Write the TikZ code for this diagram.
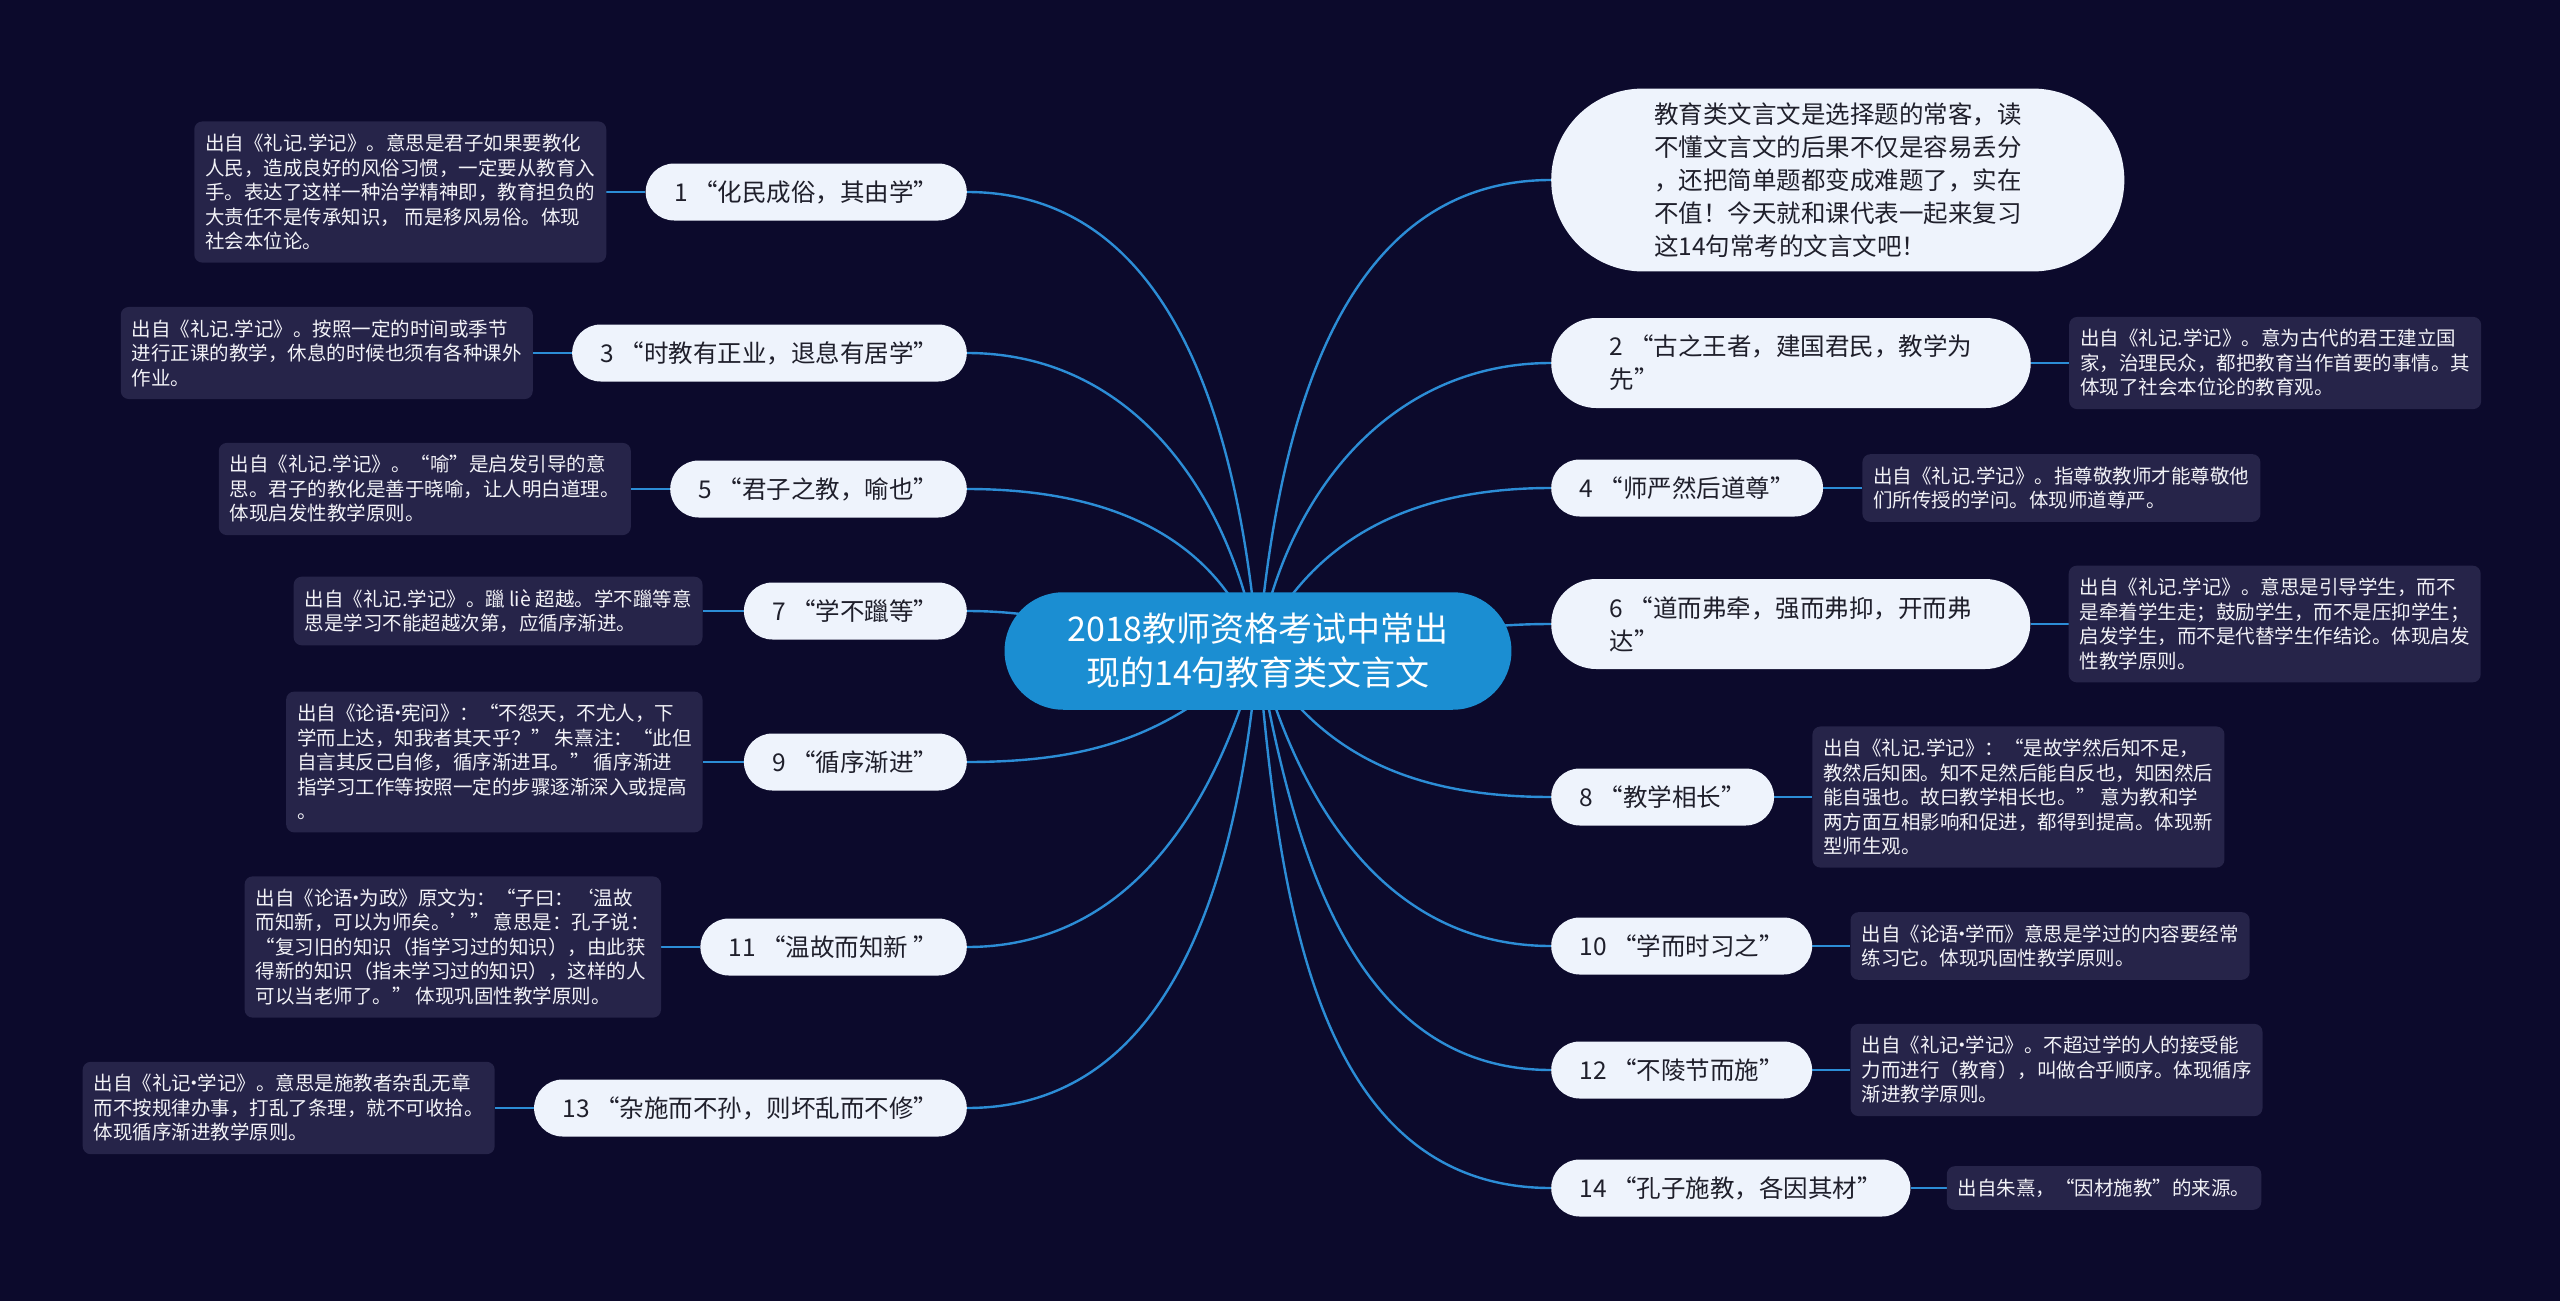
\documentclass[tikz,border=0pt]{standalone}
\usepackage{fontspec}
\usepackage{xcolor}
\usepackage{tikz}
\usetikzlibrary{shapes.misc}
\newfontfamily\cjk{Noto Sans CJK SC}
\definecolor{navy}{HTML}{0C0A2C}
\definecolor{hubblue}{HTML}{1B8ED2}
\definecolor{wireblue}{HTML}{2C8DD6}
\definecolor{topicfill}{HTML}{EEF3FC}
\definecolor{topictext}{HTML}{1F1F2B}
\definecolor{notefill}{HTML}{262449}
\definecolor{notetext}{HTML}{F2F2F7}
\newcommand{\mdot}{\kern-.33em·\kern-.33em}
\pgfdeclarelayer{back}
\pgfdeclarelayer{wires}
\pgfsetlayers{back,wires,main}

\begin{document}
\begin{tikzpicture}[x=1pt, y=-1pt,
    hub/.style={rounded rectangle, fill=hubblue, text=white, align=center,
      inner xsep=49pt, inner ysep=21pt, font=\cjk\fontsize{34pt}{44pt}\selectfont},
    topic/.style={rounded rectangle, fill=topicfill, text=topictext, align=left,
      inner xsep=26pt, inner ysep=12pt, minimum height=57pt,
      font=\cjk\fontsize{24.5pt}{33pt}\selectfont},
    twoline/.style={inner xsep=49pt, minimum height=90pt},
    note/.style={rectangle, rounded corners=8pt, fill=notefill, text=notetext,
      align=left, inner xsep=11pt, inner ysep=12.5pt,
      font=\cjk\fontsize{19.5pt}{24.5pt}\selectfont},
    wire/.style={draw=wireblue, line width=2.4pt}]

\useasboundingbox (0,0) rectangle (2560,1301);
\begin{pgfonlayer}{back}
  \fill[navy] (0,0) rectangle (2560,1301);
\end{pgfonlayer}

\node[hub] (c) at (1258,651) {2018教师资格考试中常出\\现的14句教育类文言文};

\node[topic, anchor=east] (t1) at (967,192) {1 “化民成俗，其由学”};
\node[topic, anchor=east] (t3) at (967,353) {3 “时教有正业，退息有居学”};
\node[topic, anchor=east] (t5) at (967,489) {5 “君子之教，喻也”};
\node[topic, anchor=east] (t7) at (967,611) {7 “学不躐等”};
\node[topic, anchor=east] (t9) at (967,762) {9 “循序渐进”};
\node[topic, anchor=east] (t11) at (967,947) {11 “温故而知新 ”};
\node[topic, anchor=east] (t13) at (967,1108) {13 “杂施而不孙，则坏乱而不修”};

\node[topic, anchor=west, inner xsep=60pt, inner ysep=14pt] (intro) at (1551,180) {教育类文言文是选择题的常客，读\\不懂文言文的后果不仅是容易丢分\\，还把简单题都变成难题了，实在\\不值！今天就和课代表一起来复习\\这14句常考的文言文吧！};
\node[topic, twoline, anchor=west] (t2) at (1551,363) {2 “古之王者，建国君民，教学为\\先”};
\node[topic, anchor=west] (t4) at (1551,488) {4 “师严然后道尊”};
\node[topic, twoline, anchor=west] (t6) at (1551,624) {6 “道而弗牵，强而弗抑，开而弗\\达”};
\node[topic, anchor=west] (t8) at (1551,797) {8 “教学相长”};
\node[topic, anchor=west] (t10) at (1551,946) {10 “学而时习之”};
\node[topic, anchor=west] (t12) at (1551,1070) {12 “不陵节而施”};
\node[topic, anchor=west] (t14) at (1551,1188) {14 “孔子施教，各因其材”};

\node[note, anchor=east] (n1) at ([xshift=-39pt]t1.west) {出自《礼记.学记》。意思是君子如果要教化\\人民，造成良好的风俗习惯，一定要从教育入\\手。表达了这样一种治学精神即，教育担负的\\大责任不是传承知识， 而是移风易俗。体现\\社会本位论。};
\node[note, anchor=east] (n3) at ([xshift=-39pt]t3.west) {出自《礼记.学记》。按照一定的时间或季节\\进行正课的教学，休息的时候也须有各种课外\\作业。};
\node[note, anchor=east] (n5) at ([xshift=-39pt]t5.west) {出自《礼记.学记》。“喻”是启发引导的意\\思。君子的教化是善于晓喻，让人明白道理。\\体现启发性教学原则。};
\node[note, anchor=east] (n7) at ([xshift=-41pt]t7.west) {出自《礼记.学记》。躐 liè 超越。学不躐等意\\思是学习不能超越次第，应循序渐进。};
\node[note, anchor=east] (n9) at ([xshift=-41pt]t9.west) {出自《论语\mdot 宪问》：“不怨天，不尤人，下\\学而上达，知我者其天乎？” 朱熹注：“此但\\自言其反己自修，循序渐进耳。” 循序渐进\\指学习工作等按照一定的步骤逐渐深入或提高\\。};
\node[note, anchor=east] (n11) at ([xshift=-39pt]t11.west) {出自《论语\mdot 为政》原文为：“子曰：‘温故\\而知新，可以为师矣。’” 意思是：孔子说：\\“复习旧的知识（指学习过的知识），由此获\\得新的知识（指未学习过的知识），这样的人\\可以当老师了。” 体现巩固性教学原则。};
\node[note, anchor=east] (n13) at ([xshift=-39pt]t13.west) {出自《礼记\mdot 学记》。意思是施教者杂乱无章\\而不按规律办事，打乱了条理，就不可收拾。\\体现循序渐进教学原则。};

\node[note, anchor=west] (n2) at ([xshift=38pt]t2.east) {出自《礼记.学记》。意为古代的君王建立国\\家，治理民众，都把教育当作首要的事情。其\\体现了社会本位论的教育观。};
\node[note, anchor=west] (n4) at ([xshift=39pt]t4.east) {出自《礼记.学记》。指尊敬教师才能尊敬他\\们所传授的学问。体现师道尊严。};
\node[note, anchor=west] (n6) at ([xshift=38pt]t6.east) {出自《礼记.学记》。意思是引导学生，而不\\是牵着学生走；鼓励学生，而不是压抑学生；\\启发学生，而不是代替学生作结论。体现启发\\性教学原则。};
\node[note, anchor=west] (n8) at ([xshift=38pt]t8.east) {出自《礼记.学记》：“是故学然后知不足，\\教然后知困。知不足然后能自反也，知困然后\\能自强也。故曰教学相长也。” 意为教和学\\两方面互相影响和促进，都得到提高。体现新\\型师生观。};
\node[note, anchor=west] (n10) at ([xshift=38pt]t10.east) {出自《论语\mdot 学而》意思是学过的内容要经常\\练习它。体现巩固性教学原则。};
\node[note, anchor=west] (n12) at ([xshift=38pt]t12.east) {出自《礼记\mdot 学记》。不超过学的人的接受能\\力而进行（教育），叫做合乎顺序。体现循序\\渐进教学原则。};
\node[note, anchor=west] (n14) at ([xshift=36pt]t14.east) {出自朱熹，“因材施教”的来源。};

\begin{pgfonlayer}{wires}
\draw[wire] (c.center) to[out=95,in=0] (t1.east);
\draw[wire] (c.center) to[out=100,in=0] (t3.east);
\draw[wire] (c.center) to[out=110,in=0] (t5.east);
\draw[wire] (c.center) to[out=180,in=0] (t7.east);
\draw[wire] (c.center) to[out=225,in=0] (t9.east);
\draw[wire] (c.center) to[out=255,in=0] (t11.east);
\draw[wire] (c.center) to[out=265,in=0] (t13.east);
\draw[wire] (c.center) to[out=85,in=180] (intro.west);
\draw[wire] (c.center) to[out=80,in=180] (t2.west);
\draw[wire] (c.center) to[out=65,in=180] (t4.west);
\draw[wire] (c.center) to[out=0,in=180] (t6.west);
\draw[wire] (c.center) to[out=300,in=180] (t8.west);
\draw[wire] (c.center) to[out=285,in=180] (t10.west);
\draw[wire] (c.center) to[out=280,in=180] (t12.west);
\draw[wire] (c.center) to[out=275,in=180] (t14.west);
\draw[wire] (t1.west) -- (n1.east);
\draw[wire] (t3.west) -- (n3.east);
\draw[wire] (t5.west) -- (n5.east);
\draw[wire] (t7.west) -- (n7.east);
\draw[wire] (t9.west) -- (n9.east);
\draw[wire] (t11.west) -- (n11.east);
\draw[wire] (t13.west) -- (n13.east);
\draw[wire] (t2.east) -- (n2.west);
\draw[wire] (t4.east) -- (n4.west);
\draw[wire] (t6.east) -- (n6.west);
\draw[wire] (t8.east) -- (n8.west);
\draw[wire] (t10.east) -- (n10.west);
\draw[wire] (t12.east) -- (n12.west);
\draw[wire] (t14.east) -- (n14.west);
\end{pgfonlayer}
\end{tikzpicture}
\end{document}
